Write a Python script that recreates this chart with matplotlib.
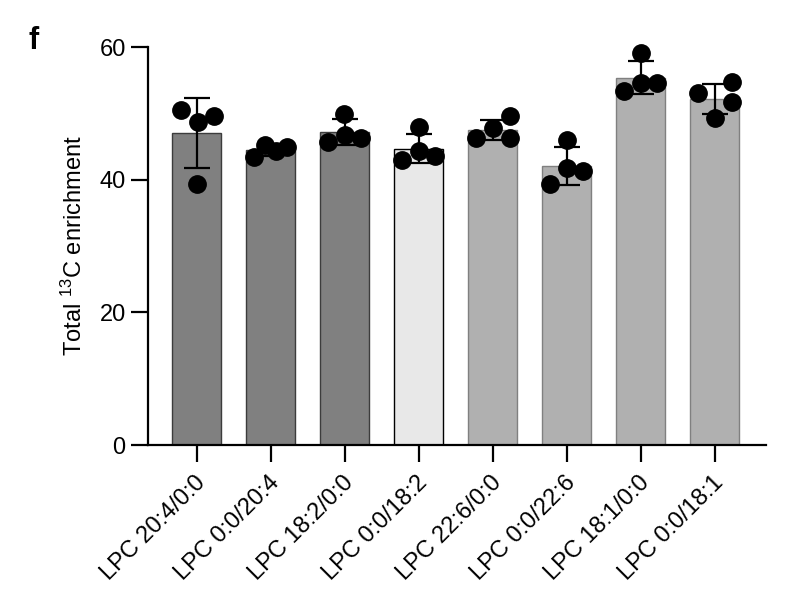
import numpy as np
import matplotlib
matplotlib.use("Agg")
import matplotlib.pyplot as plt
import matplotlib.transforms as mtransforms

plt.rcParams['font.family'] = ['Liberation Sans', 'DejaVu Sans']
plt.rcParams['mathtext.fontset'] = 'custom'
plt.rcParams['mathtext.rm'] = 'Liberation Sans'

# data (4 replicates per lipid)
labels = ['LPC 20:4/0:0', 'LPC 0:0/20:4', 'LPC 18:2/0:0', 'LPC 0:0/18:2',
          'LPC 22:6/0:0', 'LPC 0:0/22:6', 'LPC 18:1/0:0', 'LPC 0:0/18:1']
reps = [
    [50.6, 48.7, 49.6, 39.3],
    [43.4, 45.2, 44.3, 44.9],
    [45.7, 46.7, 46.3, 50.0],
    [43.0, 44.3, 43.6, 47.9],
    [46.3, 47.8, 46.3, 49.6],
    [39.3, 41.8, 41.3, 46.0],
    [53.4, 54.6, 54.6, 59.1],
    [53.1, 54.7, 51.7, 49.3],
]
# horizontal spread of the dots inside each bar
jitter = [
    [-0.22, 0.02, 0.23, 0.0],
    [-0.23, -0.08, 0.07, 0.22],
    [-0.23, 0.0, 0.22, -0.01],
    [-0.22, 0.0, 0.22, 0.0],
    [-0.22, 0.0, 0.23, 0.23],
    [-0.22, 0.0, 0.22, 0.0],
    [-0.22, 0.0, 0.22, 0.0],
    [-0.23, 0.23, 0.23, 0.0],
]
face = ['#808080'] * 3 + ['#e8e8e8'] + ['#b0b0b0'] * 4
edge = ['#3c3c3c'] * 3 + ['#000000'] + ['#808080'] * 4

means = [np.mean(r) for r in reps]
sds = [np.std(r, ddof=1) for r in reps]
x = np.arange(len(labels))

fig = plt.figure(figsize=(7.87, 6.13), dpi=100)
ax = fig.add_axes([0.188, 0.274, 0.785, 0.649])

ax.bar(x, means, width=0.66, color=face, edgecolor=edge, linewidth=1.0, zorder=2)
ax.errorbar(x, means, yerr=sds, fmt='none', ecolor='black', elinewidth=1.6,
            capsize=9.5, capthick=1.6, zorder=3)
for i in range(len(labels)):
    ax.plot(x[i] + np.array(jitter[i]), reps[i], 'o', color='black',
            markersize=12.5, zorder=4, clip_on=False)

ax.set_xlim(-0.66, 7.69)
ax.set_ylim(0, 60)
ax.set_yticks([0, 20, 40, 60])
ax.set_xticks(x)
ax.set_xticklabels([])
ax.tick_params(labelsize=17, width=1.6, length=12, pad=4)

# rotated category labels, placed a bit lower than the default tick labels
shift = ax.get_xaxis_transform() + mtransforms.ScaledTranslation(
    4 / 72, -25 / 72, fig.dpi_scale_trans)
for xi, lab in zip(x, labels):
    ax.text(xi, 0, lab, transform=shift, rotation=45, ha='right', va='center',
            rotation_mode='anchor', fontsize=17)

ax.set_ylabel(r'Total $\mathregular{^{13}}$C enrichment', fontsize=17, labelpad=9)

for s in ['top', 'right']:
    ax.spines[s].set_visible(False)
for s in ['left', 'bottom']:
    ax.spines[s].set_linewidth(1.6)

fig.text(0.036, 0.92, 'f', fontsize=22, fontweight='heavy')

fig.savefig('out.png', dpi=100)
